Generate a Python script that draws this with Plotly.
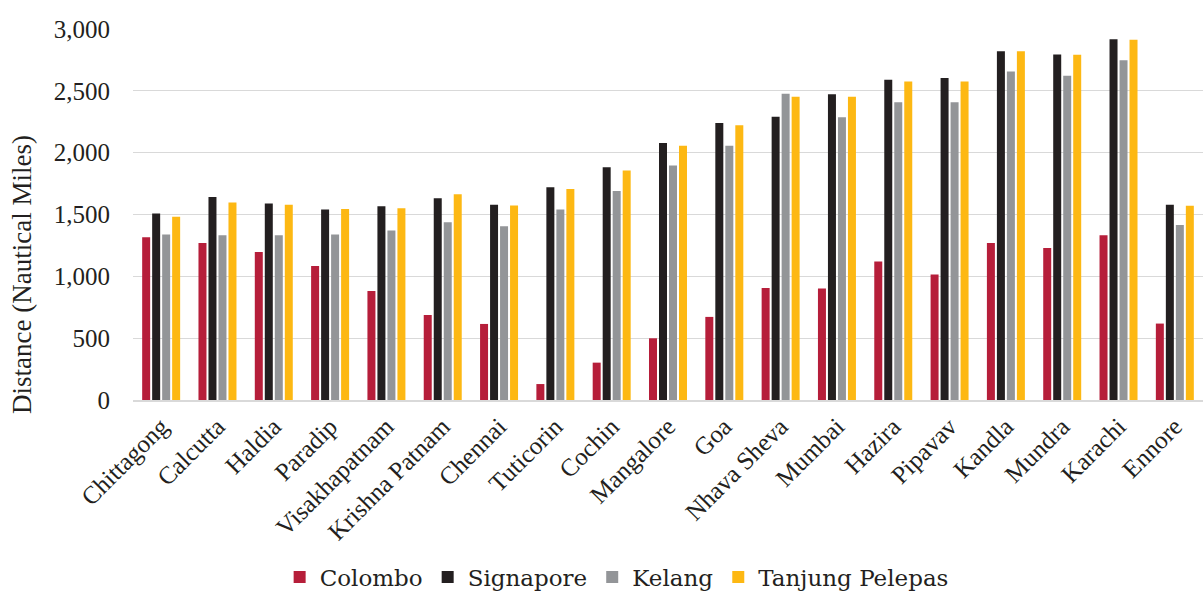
import plotly.graph_objects as go

ports = ["Chittagong", "Calcutta", "Haldia", "Paradip", "Visakhapatnam",
         "Krishna Patnam", "Chennai", "Tuticorin", "Cochin", "Mangalore",
         "Goa", "Nhava Sheva", "Mumbai", "Hazira", "Pipavav", "Kandla",
         "Mundra", "Karachi", "Ennore"]

colombo = [1316, 1270, 1197, 1084, 882, 688, 615, 129, 302, 499,
           672, 906, 901, 1119, 1014, 1270, 1230, 1332, 618]
signapore = [1508, 1642, 1589, 1540, 1567, 1632, 1578, 1721, 1883, 2079,
             2239, 2290, 2473, 2589, 2603, 2821, 2794, 2918, 1578]
kelang = [1338, 1332, 1332, 1338, 1370, 1437, 1405, 1540, 1691, 1896,
          2055, 2476, 2287, 2408, 2408, 2657, 2621, 2748, 1416]
tanjung_pelepas = [1481, 1597, 1578, 1545, 1551, 1664, 1572, 1707, 1856, 2055,
                   2222, 2452, 2452, 2576, 2576, 2821, 2791, 2913, 1570]

series = [
    ("Colombo", colombo, "#B61E3A"),
    ("Signapore", signapore, "#231F20"),
    ("Kelang", kelang, "#939598"),
    ("Tanjung Pelepas", tanjung_pelepas, "#FDB813"),
]

FONT = "Liberation Serif"
LABEL_FONT = "Times New Roman"
LEGEND_FONT = "DejaVu Serif"
TEXT = "#231F20"

fig = go.Figure()
for name, vals, color in series:
    fig.add_trace(go.Bar(x=ports, y=vals, name=name,
                         marker=dict(color=color, line=dict(width=0))))

W, H = 1203, 592
ML, MR, MT, MB = 133, 0, 29, 192
plot_h = H - MT - MB

fig.update_layout(
    width=W, height=H,
    margin=dict(l=ML, r=MR, t=MT, b=MB, autoexpand=False),
    paper_bgcolor="white", plot_bgcolor="white",
    barmode="group", bargap=0.29, bargroupgap=0.2,
    font=dict(family=FONT, size=25, color=TEXT),
    showlegend=True,
    legend=dict(orientation="h", x=0.452, xanchor="center",
                y=-(577 - (H - MB)) / plot_h, yanchor="middle",
                font=dict(family=LEGEND_FONT, size=23, color=TEXT),
                itemwidth=30, traceorder="normal"),
)

fig.update_yaxes(range=[0, 3000], dtick=500, tickformat=",",
                 showgrid=True, gridcolor="#D9D9D9", gridwidth=1,
                 zeroline=False, showline=False, automargin=False,
                 ticks="", ticklabelstandoff=22,
                 tickfont=dict(family=FONT, size=25, color=TEXT))
fig.update_xaxes(tickangle=-45, showgrid=False, ticks="", automargin=False,
                 showline=True, linecolor="#D9D9D9", linewidth=2,
                 tickfont=dict(family=FONT, size=25, color=TEXT))

fig.add_annotation(text="Distance (Nautical Miles)", textangle=-90,
                   xref="paper", yref="paper",
                   x=-(ML - 22) / (W - ML - MR), xanchor="center",
                   y=((H - MB) - 275) / plot_h, yanchor="middle",
                   showarrow=False,
                   font=dict(family=LABEL_FONT, size=27, color=TEXT))

fig.write_html("out.html")
